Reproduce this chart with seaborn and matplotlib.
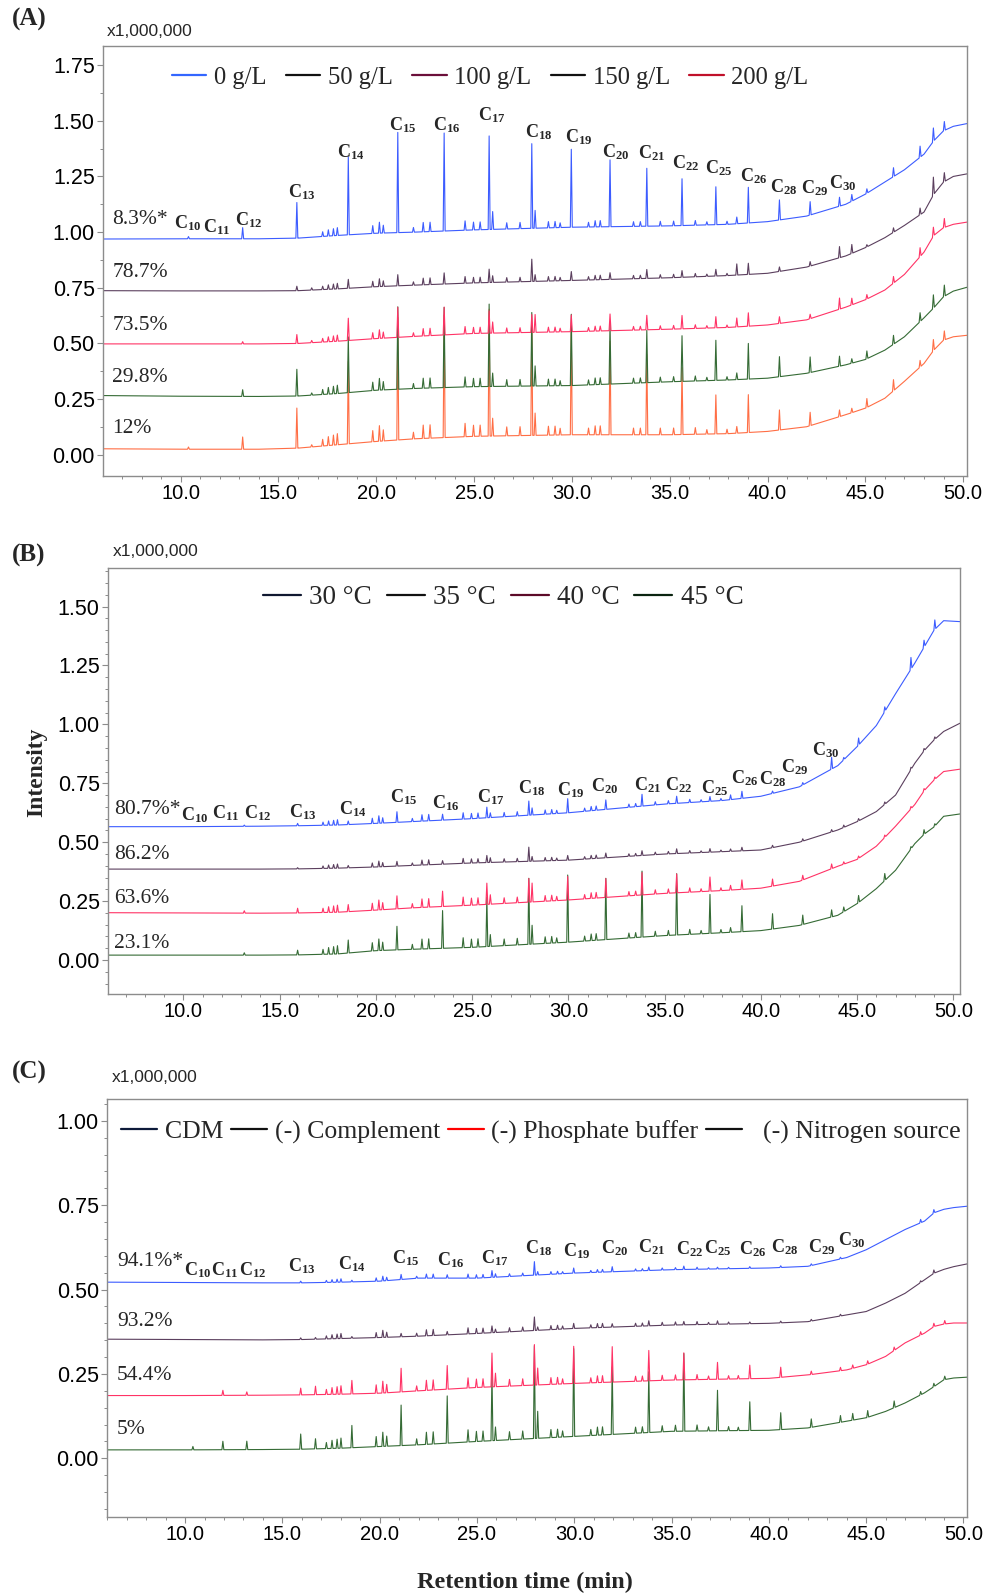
import numpy as np
import matplotlib
matplotlib.use("Agg")
import matplotlib.pyplot as plt
import seaborn as sns
from matplotlib.lines import Line2D
from matplotlib.ticker import MultipleLocator, FormatStrFormatter

# ---------------- data ----------------
# retention times (min) of the main n-alkane peaks
alk_rt = [15.94, 18.57, 21.10, 23.47, 25.77, 27.95, 29.97, 31.95, 33.83, 35.63, 37.36, 39.02, 40.61, 42.18, 43.68]
# other single peaks (short alkanes, pristane/phytane, late peaks)
oth_rt = [10.40, 11.94, 13.17, 16.70, 25.95, 28.12, 38.43, 44.31, 45.08, 46.44, 47.80, 48.48, 49.04]
# small unresolved peaks of the hump
minor_rt = [17.26, 17.55, 17.81, 18.01, 19.82, 20.16, 20.36, 21.90, 22.40, 22.75, 24.54, 24.97, 25.31, 26.67,
            27.35, 28.80, 29.14, 29.40, 30.85, 31.19, 31.45, 33.15, 33.50, 34.52, 35.20, 36.31, 36.90, 37.93]
minor_h = [0.03, 0.04, 0.045, 0.05, 0.05, 0.07, 0.05, 0.03, 0.06, 0.06, 0.06, 0.05, 0.05, 0.04,
           0.04, 0.04, 0.04, 0.03, 0.03, 0.04, 0.04, 0.03, 0.03, 0.03, 0.03, 0.03, 0.02, 0.02]

# baseline knots (min)
knot_t = [6, 10, 14, 16, 18, 20, 22, 25, 30, 35, 38, 40, 42, 44, 45, 46, 47, 48, 48.5, 49, 49.5, 50.35]

# (A) salt concentration
a_names = ['0 g/L', '50 g/L', '100 g/L', '150 g/L', '200 g/L']
a_pct = ['8.3%*', '78.7%', '73.5%', '29.8%', '12%']
a_base = [
    [0.969, 0.970, 0.970, 0.973, 0.985, 0.995, 1.000, 1.010, 1.022, 1.028, 1.035, 1.047, 1.072, 1.125, 1.170, 1.225, 1.280, 1.350, 1.410, 1.455, 1.475, 1.490],
    [0.737, 0.736, 0.736, 0.737, 0.745, 0.755, 0.762, 0.772, 0.783, 0.795, 0.805, 0.815, 0.843, 0.893, 0.930, 0.975, 1.030, 1.090, 1.170, 1.225, 1.250, 1.264],
    [0.498, 0.498, 0.498, 0.500, 0.510, 0.522, 0.532, 0.545, 0.553, 0.564, 0.572, 0.583, 0.606, 0.663, 0.696, 0.740, 0.810, 0.910, 0.985, 1.020, 1.035, 1.047],
    [0.266, 0.263, 0.262, 0.264, 0.275, 0.290, 0.298, 0.306, 0.311, 0.328, 0.336, 0.344, 0.366, 0.404, 0.428, 0.470, 0.530, 0.615, 0.660, 0.710, 0.735, 0.756],
    [0.027, 0.025, 0.025, 0.030, 0.045, 0.060, 0.072, 0.083, 0.090, 0.090, 0.095, 0.105, 0.126, 0.180, 0.209, 0.254, 0.330, 0.410, 0.470, 0.515, 0.530, 0.538],
]
a_alk = [
    [0.16, 0.35, 0.45, 0.44, 0.42, 0.38, 0.35, 0.30, 0.26, 0.21, 0.17, 0.16, 0.09, 0.06, 0.04],
    [0.02, 0.04, 0.05, 0.05, 0.06, 0.10, 0.04, 0.03, 0.04, 0.03, 0.03, 0.05, 0.02, 0.02, 0.05],
    [0.04, 0.10, 0.135, 0.125, 0.10, 0.08, 0.075, 0.075, 0.065, 0.06, 0.05, 0.06, 0.03, 0.02, 0.05],
    [0.12, 0.25, 0.37, 0.36, 0.37, 0.33, 0.32, 0.27, 0.235, 0.205, 0.18, 0.16, 0.09, 0.07, 0.045],
    [0.18, 0.37, 0.55, 0.55, 0.57, 0.50, 0.47, 0.42, 0.36, 0.30, 0.175, 0.17, 0.09, 0.06, 0.03],
]
a_oth = [
    [0.01, 0.0, 0.05, 0.0, 0.08, 0.08, 0.03, 0.03, 0.02, 0.04, 0.05, 0.06, 0.04],
    [0.0, 0.0, 0.0, 0.01, 0.03, 0.03, 0.05, 0.04, 0.01, 0.02, 0.03, 0.08, 0.04],
    [0.0, 0.0, 0.01, 0.01, 0.05, 0.08, 0.04, 0.03, 0.02, 0.03, 0.04, 0.04, 0.04],
    [0.0, 0.0, 0.03, 0.01, 0.06, 0.09, 0.03, 0.02, 0.035, 0.04, 0.04, 0.06, 0.05],
    [0.01, 0.0, 0.055, 0.01, 0.08, 0.10, 0.03, 0.02, 0.04, 0.05, 0.03, 0.05, 0.04],
]
a_minor = [0.7, 0.5, 0.55, 0.75, 1.0]

# (B) temperature
b_names = ['30 °C', '35 °C', '40 °C', '45 °C']
b_pct = ['80.7%*', '86.2%', '63.6%', '23.1%']
b_base = [
    [0.566, 0.566, 0.568, 0.570, 0.573, 0.580, 0.588, 0.600, 0.625, 0.662, 0.677, 0.695, 0.735, 0.825, 0.905, 0.995, 1.130, 1.260, 1.330, 1.400, 1.440, 1.436],
    [0.386, 0.386, 0.386, 0.387, 0.390, 0.395, 0.402, 0.412, 0.424, 0.450, 0.460, 0.467, 0.500, 0.552, 0.587, 0.630, 0.700, 0.835, 0.890, 0.934, 0.970, 1.005],
    [0.201, 0.200, 0.199, 0.200, 0.203, 0.212, 0.222, 0.233, 0.255, 0.283, 0.295, 0.305, 0.334, 0.398, 0.427, 0.483, 0.568, 0.660, 0.720, 0.764, 0.800, 0.810],
    [0.021, 0.021, 0.021, 0.022, 0.026, 0.040, 0.046, 0.054, 0.076, 0.104, 0.116, 0.125, 0.147, 0.190, 0.239, 0.303, 0.381, 0.494, 0.535, 0.565, 0.610, 0.620],
]
b_alk = [
    [0.01, 0.015, 0.045, 0.025, 0.045, 0.06, 0.06, 0.04, 0.05, 0.03, 0.02, 0.03, 0.01, 0.01, 0.05],
    [0.005, 0.01, 0.02, 0.015, 0.03, 0.06, 0.02, 0.02, 0.02, 0.02, 0.015, 0.015, 0.01, 0.01, 0.01],
    [0.02, 0.03, 0.055, 0.065, 0.09, 0.10, 0.10, 0.08, 0.095, 0.08, 0.06, 0.04, 0.03, 0.02, 0.02],
    [0.02, 0.055, 0.10, 0.16, 0.21, 0.28, 0.285, 0.26, 0.28, 0.26, 0.165, 0.11, 0.065, 0.04, 0.03],
]
b_oth = [
    [0.0, 0.0, 0.005, 0.0, 0.02, 0.03, 0.02, 0.01, 0.03, 0.02, 0.05, 0.03, 0.04],
    [0.0, 0.0, 0.0, 0.0, 0.02, 0.02, 0.01, 0.01, 0.01, 0.01, 0.01, 0.01, 0.01],
    [0.0, 0.0, 0.01, 0.0, 0.04, 0.08, 0.02, 0.01, 0.01, 0.01, 0.01, 0.01, 0.01],
    [0.0, 0.0, 0.01, 0.0, 0.05, 0.08, 0.02, 0.02, 0.03, 0.03, 0.01, 0.02, 0.01],
]
b_minor = [0.45, 0.35, 0.6, 0.7]

# (C) medium components
c_names = ['CDM', '(-) Complement', '(-) Phosphate buffer', '  (-) Nitrogen source']
c_pct = ['94.1%*', '93.2%', '54.4%', '5%']
c_base = [
    [0.522, 0.521, 0.520, 0.520, 0.522, 0.525, 0.534, 0.534, 0.549, 0.559, 0.562, 0.564, 0.569, 0.595, 0.618, 0.648, 0.678, 0.703, 0.728, 0.738, 0.743, 0.748],
    [0.353, 0.352, 0.351, 0.352, 0.355, 0.358, 0.362, 0.370, 0.385, 0.395, 0.398, 0.400, 0.405, 0.425, 0.435, 0.460, 0.489, 0.529, 0.549, 0.560, 0.568, 0.578],
    [0.186, 0.186, 0.187, 0.188, 0.190, 0.193, 0.200, 0.210, 0.222, 0.232, 0.235, 0.237, 0.247, 0.262, 0.277, 0.302, 0.342, 0.371, 0.391, 0.398, 0.401, 0.401],
    [0.025, 0.025, 0.026, 0.027, 0.030, 0.035, 0.040, 0.050, 0.065, 0.080, 0.082, 0.083, 0.090, 0.110, 0.120, 0.139, 0.164, 0.194, 0.213, 0.233, 0.238, 0.241],
]
c_alk = [
    [0.005, 0.005, 0.015, 0.01, 0.02, 0.04, 0.015, 0.015, 0.01, 0.01, 0.005, 0.005, 0.005, 0.005, 0.005],
    [0.005, 0.005, 0.01, 0.01, 0.02, 0.04, 0.015, 0.01, 0.015, 0.01, 0.01, 0.005, 0.005, 0.005, 0.005],
    [0.02, 0.04, 0.07, 0.07, 0.10, 0.12, 0.11, 0.105, 0.09, 0.08, 0.05, 0.04, 0.03, 0.01, 0.01],
    [0.045, 0.066, 0.12, 0.14, 0.20, 0.275, 0.26, 0.20, 0.18, 0.23, 0.12, 0.085, 0.05, 0.025, 0.02],
]
c_oth = [
    [0.0, 0.0, 0.0, 0.0, 0.01, 0.01, 0.0, 0.0, 0.0, 0.0, 0.01, 0.01, 0.0],
    [0.0, 0.0, 0.0, 0.005, 0.01, 0.01, 0.0, 0.0, 0.0, 0.0, 0.005, 0.01, 0.0],
    [0.0, 0.015, 0.01, 0.025, 0.04, 0.05, 0.01, 0.01, 0.01, 0.01, 0.01, 0.01, 0.01],
    [0.01, 0.025, 0.025, 0.03, 0.04, 0.08, 0.01, 0.02, 0.02, 0.02, 0.01, 0.01, 0.01],
]
c_minor = [0.2, 0.3, 0.5, 0.6]

# alkane labels
c_lab = ['10', '11', '12', '13', '14', '15', '16', '17', '18', '19', '20', '21', '22', '25', '26', '28', '29', '30']

# ---------------- style ----------------
sns.set_theme(style="white")
plt.rcParams['font.family'] = ['Liberation Sans', 'DejaVu Sans']
plt.rcParams['mathtext.fontset'] = 'custom'
plt.rcParams['mathtext.bf'] = 'Liberation Serif:bold'
plt.rcParams['mathtext.rm'] = 'Liberation Serif:bold'

SERIF = ['Liberation Serif', 'DejaVu Serif']
trace_cols = {'blue': '#3c5cff', 'purple': '#5b3f5e', 'pink': '#ff3366', 'green': '#356b35', 'orange': '#ff6e45'}
W = 0.05  # half width of a peak (min)


def build_trace(base_y, heights, minor_scale):
    pk_t = alk_rt + oth_rt + minor_rt
    pk_h = list(heights[0]) + list(heights[1]) + [h * minor_scale for h in minor_h]
    pk_t = [t for t, h in zip(pk_t, pk_h) if h > 0]
    pk_h = [h for h in pk_h if h > 0]
    xs, ys = [], []
    for t, y in zip(knot_t, base_y):
        if all(abs(t - p) > W for p in pk_t):
            xs.append(t)
            ys.append(y)
    for t, h in zip(pk_t, pk_h):
        b = np.interp([t - W, t, t + W], knot_t, base_y)
        xs += [t - W, t, t + W]
        ys += [b[0], b[1] + h, b[2]]
    order = np.argsort(xs, kind='stable')
    return np.array(xs)[order], np.array(ys)[order]


def style_axes(ax, xlim, ylim, ymax_tick, yminor):
    ax.set_xlim(*xlim)
    ax.set_ylim(*ylim)
    ax.xaxis.set_major_locator(MultipleLocator(5))
    ax.xaxis.set_minor_locator(MultipleLocator(1))
    ax.xaxis.set_major_formatter(FormatStrFormatter('%.1f'))
    ax.set_yticks(np.arange(0, ymax_tick + 0.01, 0.25))
    ax.yaxis.set_minor_locator(MultipleLocator(yminor))
    ax.yaxis.set_major_formatter(FormatStrFormatter('%.2f'))
    for s in ax.spines.values():
        s.set_color('#8c8c8c')
        s.set_linewidth(1.0)
    ax.tick_params(axis='both', which='major', direction='out', length=4, width=0.8,
                   color='#8c8c8c', labelcolor='black', pad=2, bottom=True, left=True)
    ax.tick_params(axis='x', which='major', labelsize=14.5)
    ax.tick_params(axis='y', which='major', labelsize=15.5)
    ax.tick_params(axis='both', which='minor', direction='out', length=2.5, width=0.7,
                   color='#8c8c8c', bottom=True, left=True)
    ax.set_xlabel('')
    ax.set_ylabel('')


fig = plt.figure(figsize=(9.99, 15.95), dpi=100)
axA = fig.add_axes([0.1031, 0.7016, 0.8649, 0.2696])
axB = fig.add_axes([0.1081, 0.3768, 0.8529, 0.2673])
axC = fig.add_axes([0.1074, 0.0491, 0.8609, 0.2617])

panels = [
    (axA, a_base, a_alk, a_oth, a_minor, ['blue', 'purple', 'pink', 'green', 'orange']),
    (axB, b_base, b_alk, b_oth, b_minor, ['blue', 'purple', 'pink', 'green']),
    (axC, c_base, c_alk, c_oth, c_minor, ['blue', 'purple', 'pink', 'green']),
]
for ax, base, alk, oth, mscale, cols in panels:
    # lower traces first so upper ones sit on top
    for i in reversed(range(len(base))):
        x, y = build_trace(base[i], (alk[i], oth[i]), mscale[i])
        sns.lineplot(x=x, y=y, ax=ax, color=trace_cols[cols[i]], linewidth=0.8,
                     estimator=None, sort=False)

style_axes(axA, (6.03, 50.2), (-0.095, 1.836), 1.75, 0.125)
style_axes(axB, (6.09, 50.35), (-0.144, 1.665), 1.5, 0.05)
style_axes(axC, (6.0, 50.2), (-0.173, 1.064), 1.0, 0.05)

# percentage labels
pct_pos = [
    (axA, a_pct, 6.5, [1.055, 0.817, 0.579, 0.346, 0.117]),
    (axB, b_pct, 6.4, [0.637, 0.446, 0.262, 0.071]),
    (axC, c_pct, 6.5, [0.583, 0.405, 0.244, 0.086]),
]
for ax, labs, x0, ys in pct_pos:
    for lab, yy in zip(labs, ys):
        ax.text(x0, yy, lab, family=SERIF, fontsize=15.5, ha='left', va='center')

# alkane labels
a_lab_x = [10.38, 11.86, 13.45, 16.21, 18.71, 21.37, 23.62, 25.92, 28.32, 30.37, 32.23, 34.05, 35.79, 37.49, 39.29, 40.85, 42.41, 43.85]
a_lab_y = [1.041, 1.023, 1.055, 1.180, 1.360, 1.481, 1.481, 1.526, 1.450, 1.427, 1.360, 1.355, 1.311, 1.288, 1.252, 1.203, 1.198, 1.221]
b_lab_x = [10.61, 12.22, 13.88, 16.22, 18.82, 21.44, 23.65, 25.98, 28.11, 30.11, 31.88, 34.14, 35.75, 37.62, 39.18, 40.63, 41.78, 43.39]
b_lab_y = [0.615, 0.624, 0.624, 0.628, 0.641, 0.692, 0.666, 0.692, 0.730, 0.722, 0.736, 0.743, 0.743, 0.730, 0.772, 0.768, 0.819, 0.891]
c_lab_x = [10.67, 12.04, 13.45, 16.01, 18.58, 21.31, 23.67, 25.93, 28.19, 30.14, 32.05, 33.95, 35.94, 37.39, 39.17, 40.83, 42.72, 44.26]
c_lab_y = [0.558, 0.558, 0.558, 0.568, 0.576, 0.594, 0.588, 0.594, 0.623, 0.615, 0.623, 0.627, 0.620, 0.623, 0.620, 0.627, 0.626, 0.647]
for ax, xs, ys in [(axA, a_lab_x, a_lab_y), (axB, b_lab_x, b_lab_y), (axC, c_lab_x, c_lab_y)]:
    for n, xx, yy in zip(c_lab, xs, ys):
        ax.text(xx, yy, r'$\mathbf{C_{%s}}$' % n, fontsize=13, ha='center', va='center')

# legends
leg_specs = [
    (axA, a_names, ['#3366ff', '#111111', '#6b0f3a', '#111111', '#c0102a'], (0.448, 0.926), 17.7, 0.8, 0.3),
    (axB, b_names, ['#101830', '#111111', '#5c0a28', '#0a2410'], (0.464, 0.929), 19.5, 0.55, 0.3),
    (axC, c_names, ['#0d1a3a', '#111111', '#ff0000', '#111111'], (0.504, 0.922), 18.5, 0.3, 0.3),
]
for ax, names, cols, anchor, size, cspace, tpad in leg_specs:
    handles = [Line2D([], [], color=c, lw=1.6) for c in cols]
    ax.legend(handles, names, loc='center', bbox_to_anchor=anchor, ncol=len(names),
              frameon=False, prop={'family': SERIF, 'size': size}, handlelength=1.4,
              handletextpad=tpad, columnspacing=cspace, borderaxespad=0)

# multiplier and panel letters
for ypix, xm in [(31, 107), (551, 113), (1077, 112)]:
    fig.text(xm / 999, 1 - ypix / 1595, 'x1,000,000', fontsize=12.5, ha='left', va='center')
for ypix, letter in [(19, '(A)'), (555, '(B)'), (1072, '(C)')]:
    fig.text(12 / 999, 1 - ypix / 1595, letter, family=SERIF, fontweight='bold',
             fontsize=18, ha='left', va='center')

fig.text(37 / 999, 1 - 772 / 1595, 'Intensity', family=SERIF, fontweight='bold',
         fontsize=17, rotation=90, ha='center', va='center')
fig.text(525 / 999, 1 - 1582 / 1595, 'Retention time (min)', family=SERIF,
         fontweight='bold', fontsize=17.5, ha='center', va='center')

fig.savefig('out.png', dpi=100)
